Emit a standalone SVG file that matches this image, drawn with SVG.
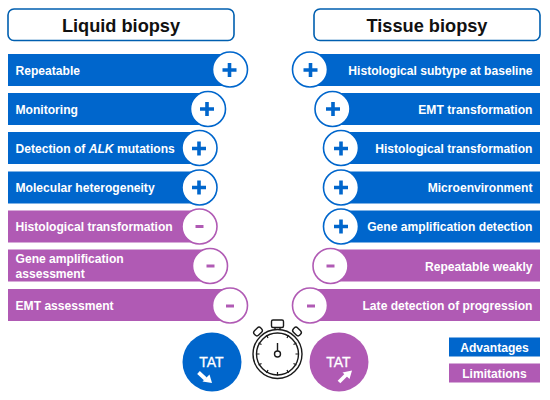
<svg xmlns="http://www.w3.org/2000/svg" width="550" height="400" viewBox="0 0 550 400">
<style>
text{font-family:"Liberation Sans",Arial,sans-serif;font-weight:700}
.lbl{font-size:12.1px;fill:#fff}
.end{text-anchor:end}
.ttl{font-size:18.2px;fill:#111;text-anchor:middle}
.b{fill:#0066cc}.p{fill:#b05ab4}
.cb{fill:#fff;stroke:#0066cc;stroke-width:1.6}
.cp{fill:#fff;stroke:#b05ab4;stroke-width:1.6}
.plus{fill:none;stroke:#0066cc;stroke-width:3.6}
.minus{fill:none;stroke:#b05ab4;stroke-width:3}
.tat{font-size:14px;fill:#fff;text-anchor:middle;font-weight:400;stroke:#fff;stroke-width:.3}
.leg{font-size:12.1px;fill:#fff;text-anchor:middle}
.sw{fill:none;stroke:#1a1a1a;stroke-width:1.4}
.tk{fill:none;stroke:#1a1a1a;stroke-width:1.2}
</style>
<defs>
<g id="plus"><path class="plus" d="M-7 0H7M0-7V7"/></g>
<g id="minus"><path class="minus" d="M-4 0H4"/></g>
</defs>
<g id="title-liquid"><rect x="8" y="9" width="226" height="31.500" rx="6" fill="#fff" stroke="#005fb0" stroke-width="1.600"/><text class="ttl" x="121" y="32">Liquid biopsy</text></g>
<g id="title-tissue"><rect x="314" y="9" width="226" height="31.500" rx="6" fill="#fff" stroke="#005fb0" stroke-width="1.600"/><text class="ttl" x="427" y="32">Tissue biopsy</text></g>

<g id="l1"><rect class="b" x="8" y="54" width="222" height="32"/><circle class="cb" cx="230" cy="69.500" r="17.500"/><use href="#plus" x="229.500" y="70"/><text class="lbl" x="15.500" y="74.500">Repeatable</text></g>
<g id="l2"><rect class="b" x="8" y="93" width="200" height="32"/><circle class="cb" cx="208" cy="109" r="17.500"/><use href="#plus" x="207" y="109"/><text class="lbl" x="15.500" y="114">Monitoring</text></g>
<g id="l3"><rect class="b" x="8" y="132" width="191" height="32"/><circle class="cb" cx="199.500" cy="148" r="17.500"/><use href="#plus" x="199" y="148.500"/><text class="lbl" x="15.500" y="153">Detection of <tspan font-style="italic">ALK</tspan> mutations</text></g>
<g id="l4"><rect class="b" x="8" y="171.500" width="191" height="32"/><circle class="cb" cx="199.500" cy="187.500" r="17.500"/><use href="#plus" x="199" y="187.500"/><text class="lbl" x="15.500" y="192">Molecular heterogeneity</text></g>
<g id="l5"><rect class="p" x="8" y="210.500" width="191" height="32"/><circle class="cp" cx="199.500" cy="226.500" r="17.500"/><use href="#minus" x="199.500" y="226.500"/><text class="lbl" x="15.500" y="231">Histological transformation</text></g>
<g id="l6"><rect class="p" x="8" y="249.500" width="202" height="32"/><circle class="cp" cx="210" cy="266" r="17.500"/><use href="#minus" x="210.500" y="266"/><text class="lbl"><tspan x="15.500" y="263">Gene amplification</tspan><tspan x="15.500" y="277.500">assessment</tspan></text></g>
<g id="l7"><rect class="p" x="8" y="289" width="222" height="32"/><circle class="cp" cx="230" cy="305.500" r="17.500"/><use href="#minus" x="230" y="306"/><text class="lbl" x="15.500" y="310">EMT assessment</text></g>

<g id="r1"><rect class="b" x="310" y="54" width="230" height="32"/><circle class="cb" cx="310" cy="69.500" r="17.500"/><use href="#plus" x="310.500" y="70"/><text class="lbl end" x="532.500" y="74.500">Histological subtype at baseline</text></g>
<g id="r2"><rect class="b" x="333" y="93" width="207" height="32"/><circle class="cb" cx="332.500" cy="109" r="17.500"/><use href="#plus" x="333" y="109"/><text class="lbl end" x="532.500" y="114">EMT transformation</text></g>
<g id="r3"><rect class="b" x="341" y="132" width="199" height="32"/><circle class="cb" cx="341" cy="148" r="17.500"/><use href="#plus" x="341" y="148.500"/><text class="lbl end" x="532.500" y="153">Histological transformation</text></g>
<g id="r4"><rect class="b" x="341" y="171.500" width="199" height="32"/><circle class="cb" cx="341" cy="187.500" r="17.500"/><use href="#plus" x="341" y="187.500"/><text class="lbl end" x="532.500" y="192">Microenvironment</text></g>
<g id="r5"><rect class="b" x="341" y="210.500" width="199" height="32"/><circle class="cb" cx="341" cy="226.500" r="17.500"/><use href="#plus" x="341" y="226.500"/><text class="lbl end" x="532.500" y="231">Gene amplification detection</text></g>
<g id="r6"><rect class="p" x="330" y="249.500" width="210" height="32"/><circle class="cp" cx="330.500" cy="266" r="17.500"/><use href="#minus" x="330.500" y="266"/><text class="lbl end" x="532.500" y="270.500">Repeatable weakly</text></g>
<g id="r7"><rect class="p" x="310" y="289" width="230" height="32"/><circle class="cp" cx="310" cy="305.500" r="17.500"/><use href="#minus" x="311" y="306"/><text class="lbl end" x="532.500" y="310">Late detection of progression</text></g>

<g id="tat-down"><circle class="b" cx="212" cy="362" r="29.500"/><text class="tat" x="211.500" y="367">TAT</text><path d="M198.500 372.500L205.500 379" stroke="#fff" stroke-width="3.800" fill="none"/><path d="M212 383L202.500 381.500L209.500 374.500Z" fill="#fff"/></g>
<g id="tat-up"><circle class="p" cx="339" cy="362" r="29.500"/><text class="tat" x="338.500" y="367">TAT</text><path d="M339 382L346 375" stroke="#fff" stroke-width="3.800" fill="none"/><path d="M352 370.500L349.500 379L342.500 372.500Z" fill="#fff"/></g>

<g id="stopwatch">
<circle class="sw" cx="277.500" cy="354" r="24.500"/>
<circle class="sw" cx="277.500" cy="354" r="21"/>
<circle class="sw" cx="277.500" cy="354" r="3"/>
<path class="sw" d="M277.500 351V343"/>
<rect class="sw" x="271.500" y="320" width="12" height="7.500" rx="1.500"/>
<path class="sw" d="M275 327.500V330M280 327.500V330"/>
<rect class="sw" x="253.500" y="328.500" width="9" height="6" rx="2.500" transform="rotate(-45 258 331.500)"/>
<rect class="sw" x="292.500" y="328.500" width="9" height="6" rx="2.500" transform="rotate(45 297 331.500)"/>
<path class="tk" d="M288.500 335L287 338M296.500 343L293.500 344.500M299 354H295.500M296.500 365L293.500 363.500M288.500 373L287 370M277.500 375.500V372M266.500 373L268 370M258.500 365L261.500 363.500M256 354H259.500M258.500 343L261.500 344.500M266.500 335L268 338"/>
</g>

<g id="legend-adv"><rect class="b" x="449" y="337.500" width="91" height="19"/><text class="leg" x="494.500" y="351.500">Advantages</text></g>
<g id="legend-lim"><rect class="p" x="449" y="363.500" width="91" height="19"/><text class="leg" x="494.500" y="377.500">Limitations</text></g>
<g id="connectors"/>
</svg>
